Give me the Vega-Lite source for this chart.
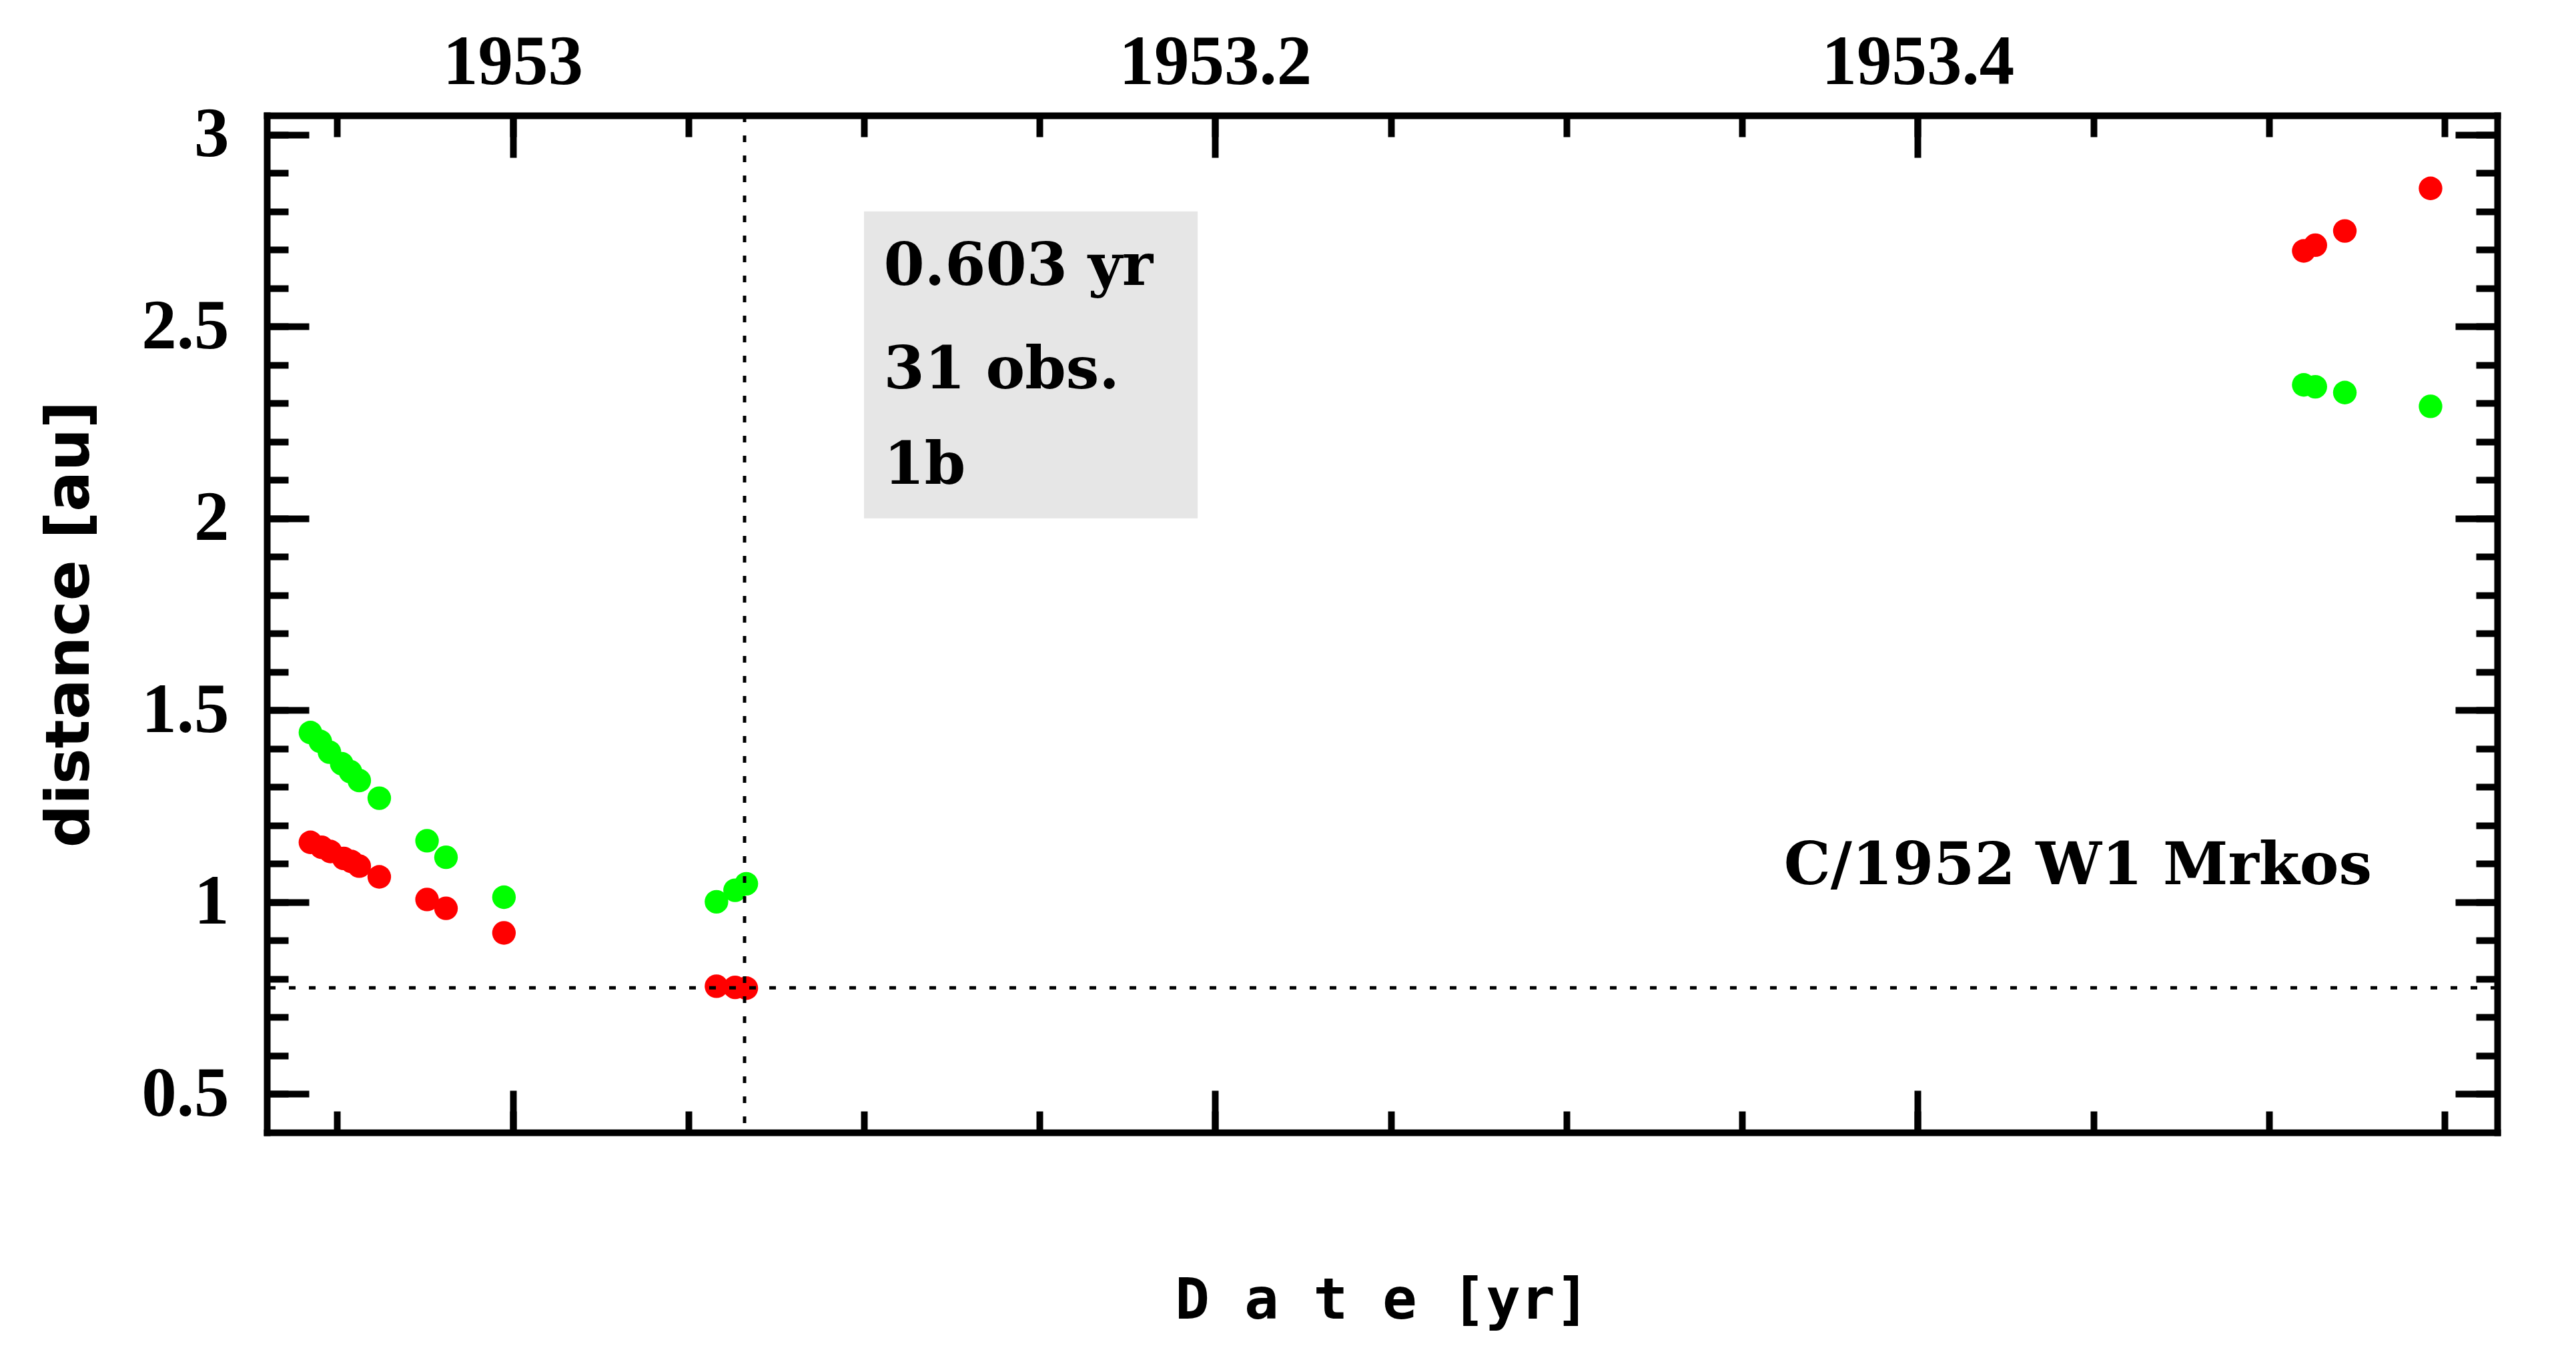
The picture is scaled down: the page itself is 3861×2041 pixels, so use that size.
{
  "$schema": "https://vega.github.io/schema/vega-lite/v6.json",
  "autosize": {"type": "none"},
  "width": 3343,
  "height": 1524,
  "padding": {"left": 400, "top": 173, "right": 118, "bottom": 344},
  "background": "white",
  "config": {
    "view": {"stroke": null},
    "axis": {"domainColor": "black", "tickColor": "black", "labelColor": "black", "titleColor": "black", "grid": false, "labelOverlap": false, "labelLimit": 0}
  },
  "datasets": {
    "obs": [
      {"t": 1952.9424, "d": 1.442, "kind": "delta"},
      {"t": 1952.9452, "d": 1.419, "kind": "delta"},
      {"t": 1952.9478, "d": 1.391, "kind": "delta"},
      {"t": 1952.9513, "d": 1.361, "kind": "delta"},
      {"t": 1952.9538, "d": 1.340, "kind": "delta"},
      {"t": 1952.9563, "d": 1.317, "kind": "delta"},
      {"t": 1952.9620, "d": 1.271, "kind": "delta"},
      {"t": 1952.9756, "d": 1.160, "kind": "delta"},
      {"t": 1952.9810, "d": 1.117, "kind": "delta"},
      {"t": 1952.9975, "d": 1.013, "kind": "delta"},
      {"t": 1953.0580, "d": 1.001, "kind": "delta"},
      {"t": 1953.0633, "d": 1.031, "kind": "delta"},
      {"t": 1953.0665, "d": 1.048, "kind": "delta"},
      {"t": 1953.5099, "d": 2.348, "kind": "delta"},
      {"t": 1953.5132, "d": 2.343, "kind": "delta"},
      {"t": 1953.5216, "d": 2.328, "kind": "delta"},
      {"t": 1953.5460, "d": 2.292, "kind": "delta"},
      {"t": 1952.9424, "d": 1.156, "kind": "r"},
      {"t": 1952.9456, "d": 1.143, "kind": "r"},
      {"t": 1952.9481, "d": 1.132, "kind": "r"},
      {"t": 1952.9519, "d": 1.114, "kind": "r"},
      {"t": 1952.9541, "d": 1.106, "kind": "r"},
      {"t": 1952.9563, "d": 1.094, "kind": "r"},
      {"t": 1952.9620, "d": 1.066, "kind": "r"},
      {"t": 1952.9756, "d": 1.007, "kind": "r"},
      {"t": 1952.9810, "d": 0.984, "kind": "r"},
      {"t": 1952.9975, "d": 0.920, "kind": "r"},
      {"t": 1953.0580, "d": 0.781, "kind": "r"},
      {"t": 1953.0633, "d": 0.778, "kind": "r"},
      {"t": 1953.0665, "d": 0.776, "kind": "r"},
      {"t": 1953.5099, "d": 2.697, "kind": "r"},
      {"t": 1953.5132, "d": 2.712, "kind": "r"},
      {"t": 1953.5216, "d": 2.749, "kind": "r"},
      {"t": 1953.5460, "d": 2.860, "kind": "r"}
    ],
    "box": [{"t1": 1953.100, "t2": 1953.195, "d1": 2.0, "d2": 2.8}],
    "notes": [
      {"t": 1953.1056, "d": 2.609, "label": "0.603 yr"},
      {"t": 1953.1056, "d": 2.338, "label": "31 obs."},
      {"t": 1953.1056, "d": 2.091, "label": "1b"}
    ],
    "name": [{"t": 1953.5293, "d": 1.046, "label": "C/1952 W1 Mrkos"}],
    "peri": [{"T": 1953.066}],
    "q": [{"q": 0.777}]
  },
  "resolve": {"axis": {"x": "independent", "y": "independent"}},
  "layer": [
    {
      "data": {"name": "box"},
      "mark": {"type": "rect", "color": "#e6e6e6"},
      "encoding": {
        "x": {"field": "t1", "type": "quantitative",
          "scale": {"domain": [1952.93, 1953.565], "nice": false, "zero": false},
          "axis": {"orient": "bottom", "values": [1952.95, 1953.0, 1953.05, 1953.1, 1953.15, 1953.2, 1953.25, 1953.3, 1953.35, 1953.4, 1953.45, 1953.5, 1953.55],
            "tickSize": -32, "tickWidth": 10, "labels": false, "domain": true, "domainWidth": 10, "domainCap": "square",
            "title": "D a t e [yr]", "titleFont": "DejaVu Sans Mono", "titleFontSize": 86, "titleFontWeight": "bold",
            "titleX": 1671.5, "titleY": 278, "titleBaseline": "alphabetic", "titleAlign": "center", "titleAngle": 0}},
        "x2": {"field": "t2"},
        "y": {"field": "d1", "type": "quantitative",
          "scale": {"domain": [0.4, 3.05], "nice": false, "zero": false},
          "axis": {"orient": "left", "values": [0.5, 0.6, 0.7, 0.8, 0.9, 1.0, 1.1, 1.2, 1.3, 1.4, 1.5, 1.6, 1.7, 1.8, 1.9, 2.0, 2.1, 2.2, 2.3, 2.4, 2.5, 2.6, 2.7, 2.8, 2.9, 3.0],
            "tickSize": -32, "tickWidth": 10, "labels": false, "domain": true, "domainWidth": 10, "domainCap": "square", "title": null}},
        "y2": {"field": "d2"}
      }
    },
    {
      "data": {"name": "obs"},
      "mark": {"type": "circle", "size": 1250, "opacity": 1},
      "encoding": {
        "x": {"field": "t", "type": "quantitative",
          "scale": {"domain": [1952.93, 1953.565], "nice": false, "zero": false},
          "axis": {"orient": "bottom", "values": [1953.0, 1953.2, 1953.4], "tickSize": -63, "tickWidth": 10, "labels": false, "domain": false, "title": null}},
        "y": {"field": "d", "type": "quantitative",
          "scale": {"domain": [0.4, 3.05], "nice": false, "zero": false},
          "axis": {"orient": "left", "values": [0.5, 1.0, 1.5, 2.0, 2.5, 3.0], "tickSize": -63, "tickWidth": 10, "domain": false,
            "labels": true, "labelFont": "Liberation Serif", "labelFontWeight": "bold", "labelFontSize": 105, "labelPadding": 120,
            "labelAlign": "right", "labelBaseline": "middle", "format": "~g",
            "title": "distance [au]", "titleFont": "DejaVu Sans", "titleFontWeight": "bold", "titleFontSize": 90,
            "titleX": -268, "titleY": 762, "titleAngle": -90, "titleAlign": "center", "titleBaseline": "alphabetic"}},
        "color": {"field": "kind", "type": "nominal", "scale": {"domain": ["delta", "r"], "range": ["#00ff00", "#ff0000"]}, "legend": null}
      }
    },
    {
      "data": {"name": "peri"},
      "mark": {"type": "rule", "color": "black", "strokeWidth": 5, "strokeDash": [10, 20]},
      "encoding": {
        "x": {"field": "T", "type": "quantitative", "scale": {"domain": [1952.93, 1953.565], "nice": false, "zero": false}, "axis": null}
      }
    },
    {
      "data": {"name": "q"},
      "mark": {"type": "rule", "color": "black", "strokeWidth": 5, "strokeDash": [10, 20]},
      "encoding": {
        "y": {"field": "q", "type": "quantitative", "scale": {"domain": [0.4, 3.05], "nice": false, "zero": false}, "axis": null}
      }
    },
    {
      "data": {"name": "notes"},
      "mark": {"type": "text", "font": "DejaVu Serif", "fontWeight": "bold", "fontSize": 88, "align": "left", "baseline": "alphabetic", "color": "black"},
      "encoding": {
        "x": {"field": "t", "type": "quantitative",
          "scale": {"domain": [1952.93, 1953.565], "nice": false, "zero": false},
          "axis": {"orient": "top", "values": [1952.95, 1953.0, 1953.05, 1953.1, 1953.15, 1953.2, 1953.25, 1953.3, 1953.35, 1953.4, 1953.45, 1953.5, 1953.55],
            "tickSize": -32, "tickWidth": 10, "labels": false, "domain": true, "domainWidth": 10, "domainCap": "square", "title": null}},
        "y": {"field": "d", "type": "quantitative",
          "scale": {"domain": [0.4, 3.05], "nice": false, "zero": false},
          "axis": {"orient": "right", "values": [0.5, 0.6, 0.7, 0.8, 0.9, 1.0, 1.1, 1.2, 1.3, 1.4, 1.5, 1.6, 1.7, 1.8, 1.9, 2.0, 2.1, 2.2, 2.3, 2.4, 2.5, 2.6, 2.7, 2.8, 2.9, 3.0],
            "tickSize": -32, "tickWidth": 10, "labels": false, "domain": true, "domainWidth": 10, "domainCap": "square", "title": null}},
        "text": {"field": "label"}
      }
    },
    {
      "data": {"name": "name"},
      "mark": {"type": "text", "font": "DejaVu Serif", "fontWeight": "bold", "fontSize": 88, "align": "right", "baseline": "alphabetic", "color": "black"},
      "encoding": {
        "x": {"field": "t", "type": "quantitative",
          "scale": {"domain": [1952.93, 1953.565], "nice": false, "zero": false},
          "axis": {"orient": "top", "values": [1953.0, 1953.2, 1953.4], "tickSize": -63, "tickWidth": 10, "domain": false,
            "labels": true, "labelFont": "Liberation Serif", "labelFontWeight": "bold", "labelFontSize": 105, "labelPadding": 111,
            "labelBaseline": "alphabetic", "labelAlign": "center", "labelFlush": false, "format": ".6~g", "title": null}},
        "y": {"field": "d", "type": "quantitative",
          "scale": {"domain": [0.4, 3.05], "nice": false, "zero": false},
          "axis": {"orient": "right", "values": [0.5, 1.0, 1.5, 2.0, 2.5, 3.0], "tickSize": -63, "tickWidth": 10, "labels": false, "domain": false, "title": null}},
        "text": {"field": "label"}
      }
    }
  ]
}
